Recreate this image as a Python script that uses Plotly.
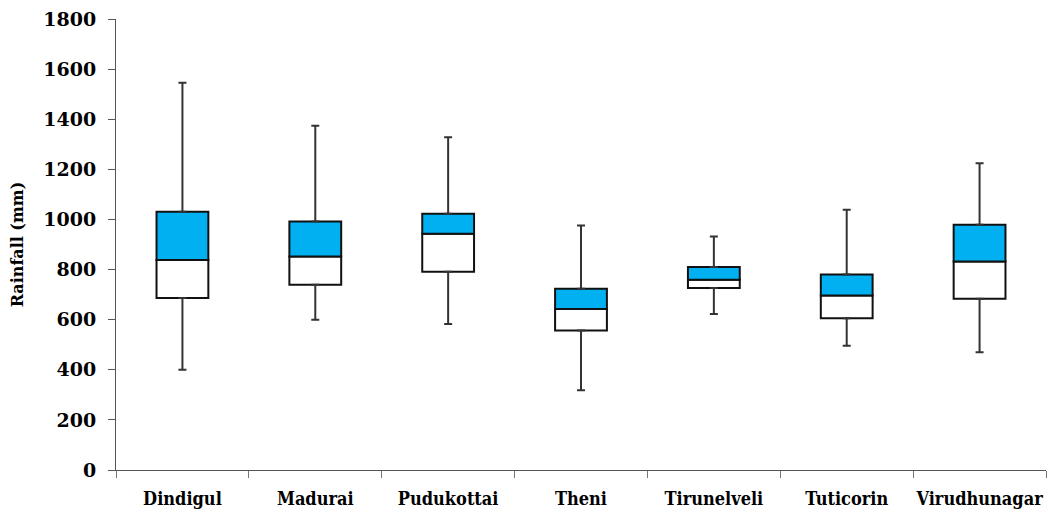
import plotly.graph_objects as go

districts = ["Dindigul", "Madurai", "Pudukottai", "Theni", "Tirunelveli", "Tuticorin", "Virudhunagar"]
min_vals = [400, 600, 583, 318, 623, 496, 470]
q1_vals = [686, 739, 791, 557, 726, 606, 683]
median_vals = [838, 852, 943, 643, 759, 696, 832]
q3_vals = [1031, 992, 1023, 723, 810, 780, 979]
max_vals = [1546, 1374, 1328, 976, 932, 1039, 1224]

lower_h = [m - q for m, q in zip(median_vals, q1_vals)]
upper_h = [q - m for q, m in zip(q3_vals, median_vals)]
lower_whisk = [q - mn for q, mn in zip(q1_vals, min_vals)]
upper_whisk = [mx - q for mx, q in zip(max_vals, q3_vals)]

fig = go.Figure()
fig.add_trace(go.Bar(x=districts, y=lower_h, base=q1_vals, width=0.39,
                     marker=dict(color="white", line=dict(color="#111111", width=2)),
                     showlegend=False, hoverinfo="skip"))
fig.add_trace(go.Bar(x=districts, y=upper_h, base=median_vals, width=0.39,
                     marker=dict(color="#00B0F0", line=dict(color="#111111", width=2)),
                     showlegend=False, hoverinfo="skip"))
fig.add_trace(go.Scatter(x=districts, y=q3_vals, mode="markers", marker=dict(opacity=0),
                         error_y=dict(type="data", symmetric=False, array=upper_whisk,
                                      arrayminus=[0]*len(districts), color="#333333",
                                      thickness=2, width=4),
                         showlegend=False, hoverinfo="skip"))
fig.add_trace(go.Scatter(x=districts, y=q1_vals, mode="markers", marker=dict(opacity=0),
                         error_y=dict(type="data", symmetric=False, array=[0]*len(districts),
                                      arrayminus=lower_whisk, color="#333333",
                                      thickness=2, width=4),
                         showlegend=False, hoverinfo="skip"))

fig.update_layout(
    width=1048, height=517,
    margin=dict(l=116, r=2, t=19, b=47),
    plot_bgcolor="white", paper_bgcolor="white",
    barmode="overlay",
    font=dict(family="DejaVu Serif", color="black"),
)
fig.update_xaxes(
    type="category", showgrid=False, showline=True, linecolor="#555555", linewidth=1,
    ticks="outside", tickson="boundaries", ticklen=7, tickcolor="#777777",
    tickfont=dict(family="DejaVu Serif Condensed", size=18, weight="bold"),
    tickangle=0, ticklabelstandoff=12, automargin=False,
)
fig.update_yaxes(
    range=[0, 1800], dtick=200, showgrid=False, zeroline=False, showline=True,
    linecolor="#555555", linewidth=1, ticks="outside", ticklen=7, tickcolor="#555555",
    tickfont=dict(family="DejaVu Serif", size=19, weight="bold"),
    ticklabelstandoff=8, automargin=False,
    title=dict(text="Rainfall (mm)", font=dict(family="DejaVu Serif", size=16, weight="bold"), standoff=15),
)

fig.write_html("out.html", config={"displayModeBar": False},
               post_script="document.body.style.margin='0';")
